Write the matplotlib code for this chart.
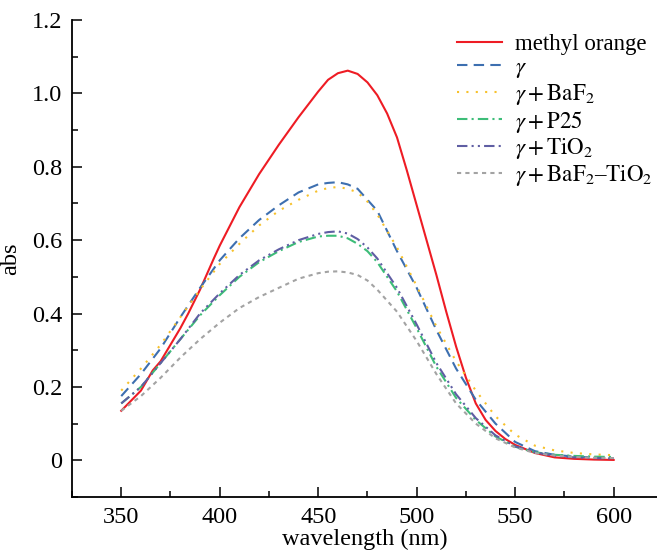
import matplotlib
matplotlib.use("Agg")
import matplotlib.pyplot as plt
from matplotlib.ticker import MultipleLocator, FuncFormatter

plt.rcParams['font.family'] = ['Liberation Serif', 'DejaVu Serif']
plt.rcParams['mathtext.fontset'] = 'stix'

# methyl orange was read on a finer grid (sharp peak)
wl_mo = [350, 360, 366, 370, 380, 384, 390, 397, 400, 410, 420, 430, 440, 450, 455, 460, 465,
         470, 475, 480, 485, 490, 495, 500, 505, 510, 515, 520, 525, 530, 535, 540, 545, 550,
         560, 570, 580, 590, 600]
methyl_orange = [0.135, 0.19, 0.245, 0.27, 0.36, 0.40, 0.465, 0.55, 0.585, 0.69, 0.78, 0.86, 0.935,
                 1.005, 1.037, 1.055, 1.062, 1.053, 1.03, 0.995, 0.945, 0.88, 0.79, 0.695, 0.6,
                 0.505, 0.405, 0.31, 0.225, 0.155, 0.11, 0.08, 0.058, 0.042, 0.02, 0.008, 0.004,
                 0.002, 0.001]

# wavelength grid (nm) for the catalyst samples
wl = [350, 360, 370, 380, 390, 400, 410, 420, 430, 440, 450, 455, 460, 465,
      470, 475, 480, 490, 500, 510, 520, 530, 540, 550, 560, 570, 580, 590, 600]
gamma = [0.175, 0.235, 0.305, 0.39, 0.47, 0.545, 0.605, 0.655, 0.695, 0.73, 0.752, 0.756, 0.758, 0.752,
         0.74, 0.71, 0.68, 0.57, 0.47, 0.355, 0.25, 0.165, 0.10, 0.05, 0.025, 0.015, 0.01, 0.008, 0.006]
gamma_baf2 = [0.19, 0.25, 0.315, 0.39, 0.465, 0.535, 0.59, 0.64, 0.68, 0.71, 0.735, 0.742, 0.745, 0.74,
              0.73, 0.705, 0.67, 0.58, 0.475, 0.365, 0.27, 0.19, 0.12, 0.07, 0.04, 0.027, 0.02, 0.016, 0.014]
gamma_p25 = [0.155, 0.20, 0.265, 0.33, 0.395, 0.45, 0.50, 0.54, 0.57, 0.595, 0.61, 0.612, 0.612, 0.605,
             0.59, 0.57, 0.54, 0.46, 0.36, 0.255, 0.17, 0.11, 0.065, 0.037, 0.022, 0.015, 0.012, 0.01, 0.009]
gamma_tio2 = [0.155, 0.20, 0.265, 0.33, 0.40, 0.455, 0.505, 0.545, 0.575, 0.60, 0.617, 0.622, 0.624, 0.618,
              0.603, 0.58, 0.55, 0.47, 0.37, 0.265, 0.18, 0.115, 0.068, 0.038, 0.022, 0.012, 0.008, 0.006, 0.005]
gamma_baf2_tio2 = [0.135, 0.175, 0.225, 0.28, 0.33, 0.375, 0.415, 0.445, 0.47, 0.495, 0.51, 0.514, 0.515, 0.512,
                   0.505, 0.49, 0.465, 0.405, 0.325, 0.235, 0.155, 0.10, 0.06, 0.035, 0.02, 0.013, 0.009, 0.007, 0.006]

labels = ['methyl orange', r'$\gamma$', r'$\gamma+\mathrm{BaF_2}$', r'$\gamma+\mathrm{P25}$',
          r'$\gamma+\mathrm{TiO_2}$', r'$\gamma+\mathrm{BaF_2}$–$\mathrm{TiO_2}$']

fig = plt.figure(figsize=(6.57, 5.52), dpi=100)
ax = fig.add_axes([72 / 657, 55 / 552, 585 / 657, 477 / 552])

lw = 1.5
ax.plot(wl_mo, methyl_orange, color='#ee1c24', lw=lw, label=labels[0])
ax.plot(wl, gamma, color='#3d6fb0', lw=lw, dashes=(5, 3), label=labels[1])
ax.plot(wl, gamma_baf2, color='#f7c12b', lw=lw, dashes=(1, 3.5), label=labels[2])
ax.plot(wl, gamma_p25, color='#3dbd78', lw=lw, dashes=(5, 2, 1, 2), label=labels[3])
ax.plot(wl, gamma_tio2, color='#5f5ea3', lw=lw, dashes=(5, 2, 1, 2, 1, 2), label=labels[4])
ax.plot(wl, gamma_baf2_tio2, color='#a3a3a3', lw=lw, dashes=(2, 2), label=labels[5])

ax.set_xlim(325, 622)
ax.set_ylim(-0.1, 1.2)
ax.xaxis.set_major_locator(MultipleLocator(50))
ax.xaxis.set_minor_locator(MultipleLocator(25))
ax.yaxis.set_major_locator(MultipleLocator(0.2))
ax.yaxis.set_minor_locator(MultipleLocator(0.1))
ax.yaxis.set_major_formatter(FuncFormatter(lambda v, p: '0' if abs(v) < 1e-9 else f'{v:.1f}'))

for side in ['top', 'right']:
    ax.spines[side].set_visible(False)
for side in ['left', 'bottom']:
    ax.spines[side].set_linewidth(1.3)

ax.tick_params(which='major', direction='in', length=7, width=1.1, labelsize=17.5, pad=7)
ax.tick_params(which='minor', direction='in', length=4, width=1.1)

ax.set_xlabel('wavelength (nm)', fontsize=17.5, labelpad=1)
ax.set_ylabel('abs', fontsize=17.5, labelpad=8)

ax.legend(loc='upper left', bbox_to_anchor=(0.643, 0.99), frameon=False, fontsize=16.5,
          handlelength=1.95, handletextpad=0.55, labelspacing=0.08, borderaxespad=0)

fig.savefig('out.png', dpi=100)
